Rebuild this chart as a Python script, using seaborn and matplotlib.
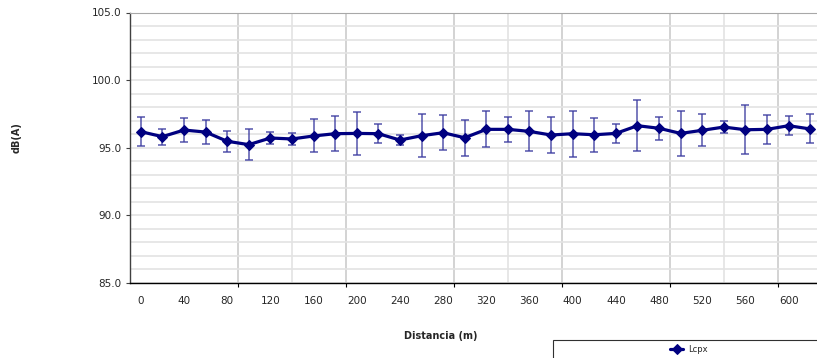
import numpy as np
import pandas as pd
import matplotlib
matplotlib.use("Agg")
import matplotlib.pyplot as plt
from matplotlib.ticker import FixedLocator, MultipleLocator, FormatStrFormatter
from matplotlib.patches import Rectangle
import seaborn as sns

# Data: distance (m), mean level dB(A), error half-width
distancia = [0, 20, 40, 60, 80, 100, 120, 140, 160, 180, 200, 220, 240, 260, 280, 300,
             320, 340, 360, 380, 400, 420, 440, 460, 480, 500, 520, 540, 560, 580, 600, 620]
lcpx = [96.19, 95.82, 96.31, 96.16, 95.48, 95.23, 95.72, 95.65, 95.87, 96.04, 96.06, 96.04,
        95.57, 95.89, 96.11, 95.74, 96.36, 96.36, 96.21, 95.94, 96.04, 95.96, 96.06, 96.63,
        96.44, 96.06, 96.29, 96.53, 96.33, 96.36, 96.63, 96.39]
error = [1.06, 0.59, 0.88, 0.87, 0.79, 1.12, 0.43, 0.41, 1.22, 1.30, 1.58, 0.72,
         0.35, 1.57, 1.31, 1.34, 1.34, 0.95, 1.48, 1.30, 1.70, 1.26, 0.73, 1.90,
         0.84, 1.65, 1.19, 0.44, 1.81, 1.09, 0.72, 1.07]
x_labels = list(range(0, 601, 40))

df = pd.DataFrame({"distancia": distancia, "Lcpx": lcpx, "err": error})

sns.set_style("white")
plt.rcParams["font.family"] = ["DejaVu Sans"]

fig = plt.figure(figsize=(8.17, 3.58), dpi=100)
ax = fig.add_axes([130 / 817, 1 - 283 / 358, 691 / 817, 270.5 / 358])

navy = "#000080"

# Error bars first (lighter), then line with diamond markers
ax.errorbar(df["distancia"], df["Lcpx"], yerr=df["err"], fmt="none",
            ecolor="#3a3aa0", elinewidth=1.2, capsize=2.6, capthick=1.2,
            alpha=0.8, zorder=3)
sns.lineplot(data=df, x="distancia", y="Lcpx", ax=ax, color=navy, linewidth=2.3,
             marker="D", markersize=5.5, markeredgecolor=navy, label="Lcpx",
             zorder=4, legend=False)

ax.set_xlim(-10, 630)
ax.set_ylim(85, 105)

# y axis
ax.yaxis.set_major_locator(MultipleLocator(5))
ax.yaxis.set_minor_locator(MultipleLocator(1))
ax.yaxis.set_major_formatter(FormatStrFormatter("%.1f"))
ax.tick_params(axis="y", which="major", left=True, length=3, width=0.8,
               color="#404040", labelsize=7.5, pad=3)
ax.tick_params(axis="y", which="minor", left=False)

# x axis: labels every 40 m, gridlines every 50 m offset by half a step
ax.xaxis.set_major_locator(FixedLocator(x_labels))
ax.xaxis.set_minor_locator(FixedLocator(list(range(40, 600, 100))))
ax.tick_params(axis="x", which="major", bottom=True, length=0, labelsize=7.5, pad=9)
ax.tick_params(axis="x", which="minor", bottom=False)

ax.grid(False)
ax.grid(axis="y", which="both", color="#e3e3e3", linewidth=1.2, zorder=0)
ax.grid(axis="x", which="minor", color="#e3e3e3", linewidth=1.2, zorder=0)
for xv in range(90, 600, 100):
    ax.axvline(xv, color="#c8c8c8", linewidth=1.1, zorder=0)

sec = ax.secondary_xaxis("bottom")
sec.xaxis.set_major_locator(FixedLocator(list(range(90, 600, 100))))
sec.tick_params(length=3, width=0.8, labelbottom=False, color="black")
sec.spines["bottom"].set_visible(False)

for s in ["left", "bottom", "top", "right"]:
    ax.spines[s].set_visible(True)
ax.spines["left"].set_color("#404040")
ax.spines["left"].set_linewidth(1.0)
ax.spines["bottom"].set_color("black")
ax.spines["bottom"].set_linewidth(1.0)
ax.spines["top"].set_color("#a8a8a8")
ax.spines["top"].set_linewidth(0.8)
ax.spines["right"].set_visible(False)

ax.set_xlabel("")
ax.set_ylabel("")
fig.text(441 / 817, 1 - 336 / 358, "Distancia (m)", ha="center", va="center",
         fontsize=7, fontweight="bold")
fig.text(17 / 817, 1 - 138 / 358, "dB(A)", ha="center", va="center",
         rotation=90, fontsize=7, fontweight="bold")

# legend box (clipped at the right/bottom edge like the original)
fig.patches.append(Rectangle((553 / 817, -0.05), 0.4, 1 - 340 / 358 + 0.05,
                             transform=fig.transFigure, facecolor="white",
                             edgecolor="#303030", linewidth=0.8))
handles, labels = ax.get_legend_handles_labels()
fig.legend(handles, labels, loc="center", bbox_to_anchor=(689 / 817, 1 - 349 / 358),
           frameon=False, fontsize=6, handlelength=1.6, handletextpad=0.6,
           borderpad=0, borderaxespad=0)

fig.savefig("out.png", dpi=100)
